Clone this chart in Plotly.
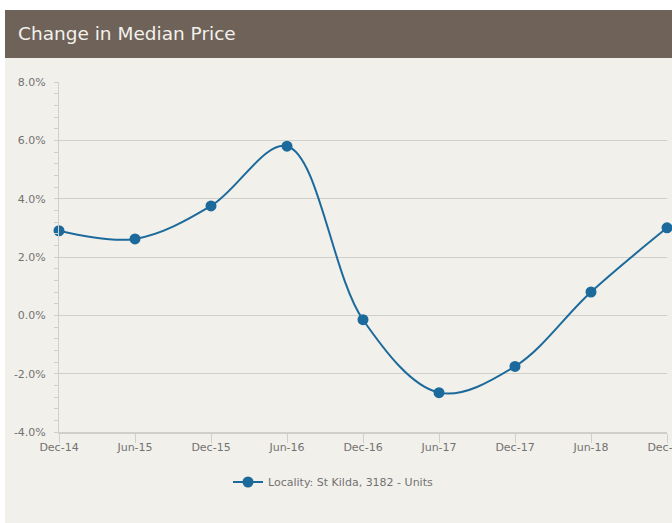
import plotly.graph_objects as go

periods = ["Dec-14", "Jun-15", "Dec-15", "Jun-16", "Dec-16", "Jun-17", "Dec-17", "Jun-18", "Dec-18"]
change_pct = [2.9, 2.62, 3.75, 5.8, -0.15, -2.65, -1.75, 0.8, 3.0]
series_name = "Locality: St Kilda, 3182 - Units"
y_tickvals = [-4, -2, 0, 2, 4, 6, 8]
y_ticktext = ["-4.0%", "-2.0%", "0.0%", "2.0%", "4.0%", "6.0%", "8.0%"]

W, H = 672, 523
BG = "#f2f0eb"
BAR = "#6e6259"
LINE = "#1b6a9b"
GRID = "#cfcfcb"
FONT = "DejaVu Sans"
TXT = "#727272"

fig = go.Figure()
fig.add_trace(go.Scatter(
    x=list(range(len(periods))), y=change_pct, name=series_name,
    mode="lines+markers",
    line=dict(color=LINE, width=2, shape="spline", smoothing=1.0),
    marker=dict(color=LINE, size=11),
    cliponaxis=False,
))

fig.update_layout(
    width=W, height=H,
    paper_bgcolor="white", plot_bgcolor=BG,
    margin=dict(l=59, r=5, t=82, b=91, autoexpand=False),
    font=dict(family=FONT, size=11, color=TXT),
    showlegend=True,
    legend=dict(orientation="h", xref="container", yref="container",
                x=228 / W, xanchor="left", y=1 - 482 / H, yanchor="middle",
                bgcolor="rgba(0,0,0,0)", font=dict(size=11, color=TXT, family=FONT),
                itemwidth=30),
    shapes=[
        dict(type="rect", xref="paper", yref="paper", layer="below",
             x0=-54 / 608, x1=1 + 5 / 608, y0=-(523 - 432) / 350, y1=1 + (82 - 10) / 350,
             fillcolor=BG, line=dict(width=0)),
        dict(type="rect", xref="paper", yref="paper", layer="above",
             x0=-54 / 608, x1=1 + 5 / 608, y0=1 + (82 - 58) / 350, y1=1 + (82 - 10) / 350,
             fillcolor=BAR, line=dict(width=0)),
    ],
    annotations=[
        dict(text="Change in Median Price", xref="paper", yref="paper",
             x=-43 / 608, y=1 + (82 - 34) / 350, xanchor="left", yanchor="middle",
             showarrow=False, font=dict(family="DejaVu Sans", size=18.5, color="#f4f1ec")),
    ],
)

fig.update_xaxes(
    range=[0, len(periods) - 1],
    tickvals=list(range(len(periods))), ticktext=periods,
    showgrid=False, zeroline=False, automargin=False,
    showline=True, linecolor=GRID, linewidth=1.5,
    ticks="outside", ticklen=9, tickcolor=GRID, tickwidth=1,
    ticklabelstandoff=-5, ticklabeloverflow="allow",
    tickfont=dict(size=11, color=TXT),
)
fig.update_yaxes(
    range=[-4, 8],
    tickvals=y_tickvals, ticktext=y_ticktext,
    showgrid=True, gridcolor=GRID, gridwidth=1, zeroline=False, automargin=False,
    showline=True, linecolor=GRID, linewidth=1,
    ticks="outside", ticklen=4, tickcolor=GRID,
    minor=dict(dtick=0.4, ticks="outside", ticklen=4, tickcolor=GRID, showgrid=False),
    ticklabelstandoff=6,
    tickfont=dict(size=11, color=TXT),
)

fig.write_html("out.html", config={"displayModeBar": False},
               post_script="document.body.style.margin='0';document.body.style.overflow='hidden';")
